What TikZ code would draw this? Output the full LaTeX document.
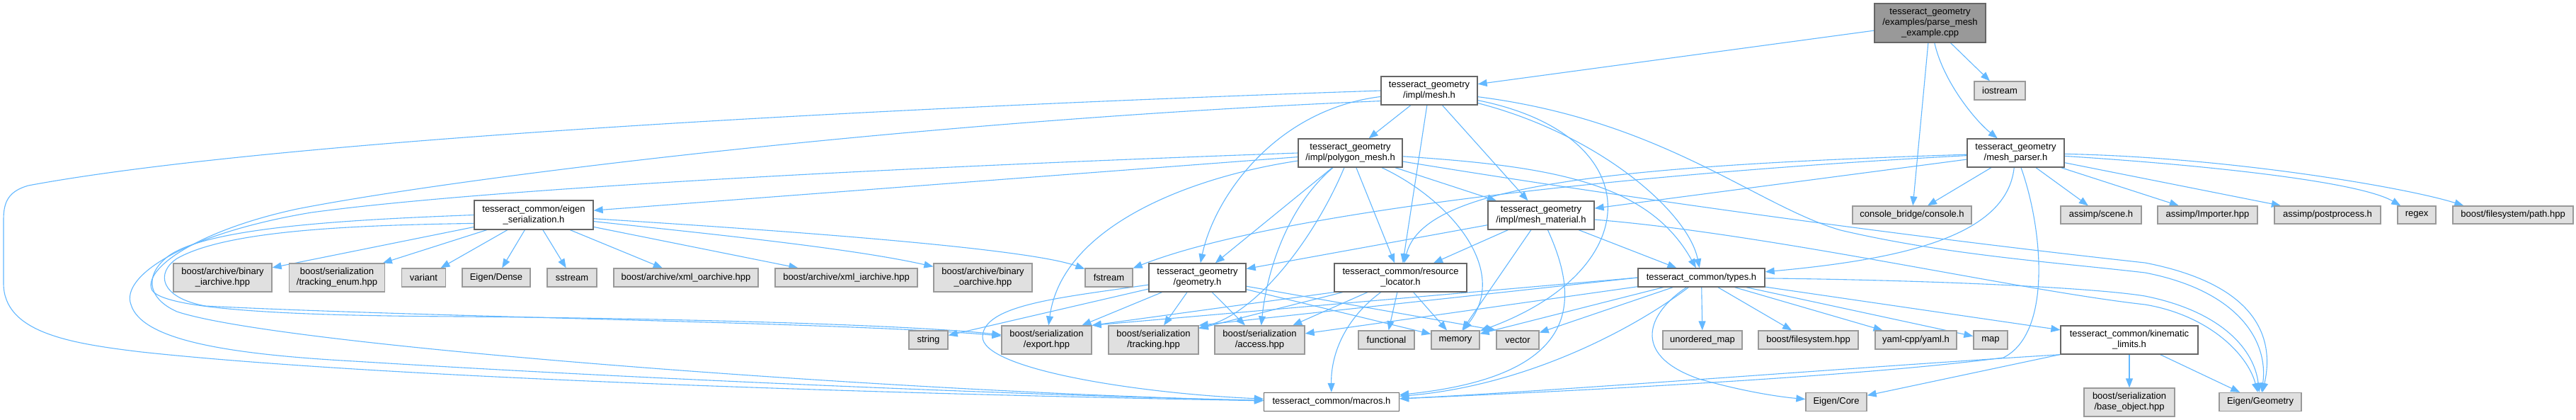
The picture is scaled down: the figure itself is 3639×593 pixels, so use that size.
\documentclass[tikz,border=0pt]{standalone}
\usepackage{fontspec}
\setmainfont{Liberation Sans}
\usetikzlibrary{arrows.meta,backgrounds}
\pgfdeclarelayer{bg}
\pgfsetlayers{bg,background,main}
\definecolor{edgeblue}{HTML}{63B8FF}
\definecolor{extfill}{HTML}{E0E0E0}
\definecolor{extline}{HTML}{999999}
\definecolor{wline}{HTML}{666666}
\definecolor{rootfill}{HTML}{999999}
\begin{document}
\begin{tikzpicture}[x=1pt,y=-1pt,
  box/.style={draw=wline, fill=white, line width=1.3pt, inner sep=0pt, align=center,
              font=\fontsize{13}{15}\selectfont, text=black},
  ext/.style={box, draw=extline, fill=extfill},
  rootbox/.style={box, draw=wline, fill=rootfill},
  sz/.style 2 args={minimum width=#1pt, minimum height=#2pt},
  dep/.style={draw=edgeblue, line width=1.1pt, -{Triangle[length=13pt,width=10pt]}}]
\useasboundingbox (0,0) rectangle (3639,593);
\begin{pgfonlayer}{bg}
\fill[white] (0,0) rectangle (3639,593);
\end{pgfonlayer}

% ---- nodes ----
\node[rootbox, sz={157}{55}] (root) at (2726.5,32.5) {tesseract\_geometry\\/examples/parse\_mesh\\\_example.cpp};
\node[ext, sz={72}{26}] (iostream) at (2825,128) {iostream};
\node[box, sz={137}{40}] (parser) at (2847.5,216) {tesseract\_geometry\\/mesh\_parser.h};
\node[box, sz={136}{40}] (mesh) at (2019,128) {tesseract\_geometry\\/impl/mesh.h};
\node[box, sz={147}{40}] (polygon) at (1907.5,216) {tesseract\_geometry\\/impl/polygon\_mesh.h};
\node[box, sz={150}{40}] (material) at (2177,304) {tesseract\_geometry\\/impl/mesh\_material.h};
\node[box, sz={168}{41}] (eigser) at (754,303.5) {tesseract\_common/eigen\\\_serialization.h};
\node[ext, sz={168}{25}] (console) at (2701,303.5) {console\_bridge/console.h};
\node[ext, sz={114}{25}] (scene) at (2968,303.5) {assimp/scene.h};
\node[ext, sz={141}{25}] (importer) at (3118.5,303.5) {assimp/Importer.hpp};
\node[ext, sz={150}{25}] (postproc) at (3288,303.5) {assimp/postprocess.h};
\node[ext, sz={54}{25}] (regex) at (3414,303.5) {regex};
\node[ext, sz={170}{25}] (fspath) at (3550,303.5) {boost/filesystem/path.hpp};

\node[ext, sz={139}{40}] (biar) at (314.5,392) {boost/archive/binary\\\_iarchive.hpp};
\node[ext, sz={135}{40}] (trenum) at (476,392) {boost/serialization\\/tracking\_enum.hpp};
\node[ext, sz={62}{26}] (variant) at (598.5,392) {variant};
\node[ext, sz={96}{26}] (edense) at (701,392) {Eigen/Dense};
\node[ext, sz={70}{26}] (sstream) at (808,392) {sstream};
\node[ext, sz={204}{26}] (xmlo) at (969,392) {boost/archive/xml\_oarchive.hpp};
\node[ext, sz={201}{26}] (xmli) at (1195.5,392) {boost/archive/xml\_iarchive.hpp};
\node[ext, sz={139}{40}] (bioar) at (1388.5,392) {boost/archive/binary\\\_oarchive.hpp};
\node[ext, sz={67}{26}] (fstream) at (1566.5,392) {fstream};
\node[box, sz={137}{40}] (geometry) at (1691.5,392) {tesseract\_geometry\\/geometry.h};
\node[box, sz={187}{40}] (resloc) at (1978.5,392) {tesseract\_common/resource\\\_locator.h};
\node[box, sz={179}{26}] (types) at (2403.5,392) {tesseract\_common/types.h};

\node[ext, sz={55}{26}] (string) at (1311.5,480) {string};
\node[ext, sz={127}{40}] (export) at (1478.5,480) {boost/serialization\\/export.hpp};
\node[ext, sz={127}{40}] (tracking) at (1629.5,480) {boost/serialization\\/tracking.hpp};
\node[ext, sz={127}{40}] (access) at (1779.5,480) {boost/serialization\\/access.hpp};
\node[ext, sz={79}{26}] (functional) at (1958.5,480) {functional};
\node[ext, sz={68}{26}] (memory) at (2056,480) {memory};
\node[ext, sz={60}{26}] (vector) at (2144,480) {vector};
\node[ext, sz={112}{26}] (umap) at (2405,480) {unordered\_map};
\node[ext, sz={141}{26}] (bfs) at (2554.5,480) {boost/filesystem.hpp};
\node[ext, sz={115}{26}] (yaml) at (2706.5,480) {yaml-cpp/yaml.h};
\node[ext, sz={48}{26}] (map) at (2812,480) {map};
\node[box, sz={194}{40}] (kinlim) at (3008,480) {tesseract\_common/kinematic\\\_limits.h};

\node[box, sz={191}{26}] (macros) at (1881,567.5) {tesseract\_common/macros.h};
\node[ext, sz={86}{26}] (ecore) at (2594,567.5) {Eigen/Core};
\node[ext, sz={128}{40}] (baseobj) at (3008,568) {boost/serialization\\/base\_object.hpp};
\node[ext, sz={116}{26}] (egeo) at (3193,567.5) {Eigen/Geometry};

% ---- edges ----
\begin{pgfonlayer}{background}
% root
\path[dep] (root) -- (mesh);
\path[dep] (root) -- (iostream);
\path[dep] (root) .. controls (2745,115) and (2790,170) .. (parser);
\path[dep] (root) -- (console);
% mesh_parser
\path[dep] (parser) -- (console);
\path[dep] (parser) -- (scene);
\path[dep] (parser) -- (importer);
\path[dep] (parser) -- (postproc);
\path[dep] (parser) .. controls (3100,232) and (3330,255) .. (regex);
\path[dep] (parser) .. controls (3150,222) and (3400,265) .. ([xshift=16pt]fspath.north west);
\path[dep] (parser) .. controls (2300,245) and (1800,300) .. (fstream);
\path[dep] (parser) -- (material);
\path[dep] (parser) .. controls (2250,235) and (2010,265) .. (resloc);
\path[dep] (parser) .. controls (2835,330) and (2700,365) .. (types);
\path[dep] (parser) .. controls (2885,320) and (2900,470) .. (2830,505) .. controls (2600,535) and (2150,555) .. (macros);
% mesh.h
\path[dep] (mesh) -- (polygon);
\path[dep] (mesh) -- (material);
\path[dep] (mesh) -- (resloc);
\path[dep] (mesh) .. controls (1800,155) and (1715,280) .. (geometry);
\path[dep] (mesh) .. controls (2260,190) and (2385,300) .. (types);
\path[dep] (mesh) .. controls (2330,190) and (2330,380) .. (memory);
\path[dep] (mesh) .. controls (2350,170) and (2480,290) .. (2600,325) .. controls (2750,360) and (2900,370) .. (3030,385) .. controls (3160,410) and (3205,480) .. (egeo);
\path[dep] (mesh.west) .. controls (1300,150) and (400,195) .. (40,262) .. controls (12,270) and (5,285) .. (5,310) -- (5,400) .. controls (5,470) and (100,485) .. (200,497) .. controls (600,540) and (1450,560) .. (macros);
\path[dep] (mesh.192) .. controls (1300,170) and (650,250) .. (420,295) .. controls (280,325) and (200,380) .. (215,410) .. controls (235,440) and (450,446) .. (650,447) .. controls (1000,450) and (1300,460) .. (export);
% polygon_mesh
\path[dep] (polygon) -- (eigser);
\path[dep] (polygon) -- (geometry);
\path[dep] (polygon) -- (resloc);
\path[dep] (polygon) -- (material);
\path[dep] (polygon) .. controls (2045,280) and (2135,380) .. (memory);
\path[dep] (polygon) .. controls (2200,235) and (2330,260) .. (types);
\path[dep] (polygon) .. controls (2300,280) and (2700,335) .. (3030,371) .. controls (3180,400) and (3215,470) .. (egeo);
\path[dep] (polygon) .. controls (1820,290) and (1790,380) .. (access);
\path[dep] (polygon) .. controls (1680,250) and (1500,320) .. (export);
\path[dep] (polygon) .. controls (1860,330) and (1780,440) .. (tracking);
\path[dep] (polygon.west) .. controls (1300,235) and (700,265) .. (440,300) .. controls (260,330) and (170,390) .. (185,430) .. controls (200,480) and (320,500) .. (500,510) .. controls (900,535) and (1450,558) .. (macros);
% mesh_material
\path[dep] (material) -- (resloc);
\path[dep] (material) -- (memory);
\path[dep] (material) -- (types);
\path[dep] (material) -- (geometry);
\path[dep] (material) .. controls (2230,420) and (2240,530) .. (macros);
\path[dep] (material) .. controls (2500,330) and (2850,410) .. (3030,430) .. controls (3120,445) and (3175,500) .. (egeo);
% eigen_serialization
\path[dep] (eigser) -- (biar);
\path[dep] (eigser) -- (trenum);
\path[dep] (eigser) -- (variant);
\path[dep] (eigser) -- (edense);
\path[dep] (eigser) -- (sstream);
\path[dep] (eigser) -- (xmlo);
\path[dep] (eigser) -- (xmli);
\path[dep] (eigser) .. controls (1000,330) and (1200,350) .. (bioar);
\path[dep] (eigser) .. controls (1100,325) and (1450,350) .. (fstream);
\path[dep] (eigser.west) .. controls (500,310) and (300,320) .. (240,360) .. controls (205,385) and (205,420) .. (250,440) .. controls (400,490) and (1300,555) .. (macros);
\path[dep] (eigser.188) .. controls (500,318) and (320,325) .. (250,365) .. controls (220,385) and (225,420) .. (290,432) .. controls (600,448) and (1200,455) .. (export);
% geometry.h
\path[dep] (geometry) -- (string);
\path[dep] (geometry) -- (export);
\path[dep] (geometry) -- (tracking);
\path[dep] (geometry) -- (access);
\path[dep] (geometry) -- (memory);
\path[dep] (geometry) -- (vector.north west);
\path[dep] (geometry) .. controls (1500,420) and (1390,430) .. (1388,475) .. controls (1386,520) and (1600,555) .. (macros);
% resource_locator
\path[dep] (resloc.south west) -- (export.north east);
\path[dep] (resloc) -- (tracking);
\path[dep] (resloc) -- (access);
\path[dep] (resloc) -- (functional);
\path[dep] (resloc) -- (memory);
\path[dep] (resloc) .. controls (1900,450) and (1880,500) .. (macros);
% types.h
\path[dep] (types.west) -- (export.north east);
\path[dep] (types.west) -- (tracking.north east);
\path[dep] (types) -- (access);
\path[dep] (types) -- (memory);
\path[dep] (types) -- (vector);
\path[dep] (types) -- (umap);
\path[dep] (types) -- (bfs);
\path[dep] (types) -- (yaml);
\path[dep] (types) -- (map);
\path[dep] (types) -- (kinlim);
\path[dep] (types) .. controls (2300,470) and (2150,545) .. (macros);
\path[dep] (types) .. controls (2330,440) and (2300,500) .. (2400,535) .. controls (2460,552) and (2510,560) .. (ecore);
\path[dep] (types) .. controls (2700,395) and (2950,405) .. (3030,418) .. controls (3140,440) and (3185,495) .. (egeo);
% kinematic_limits
\path[dep] (kinlim.south west) .. controls (2600,520) and (2200,552) .. (macros);
\path[dep] (kinlim) -- (ecore);
\path[dep] (kinlim) -- (baseobj);
\path[dep] (kinlim) -- (egeo);
\end{pgfonlayer}
\end{tikzpicture}
\end{document}
